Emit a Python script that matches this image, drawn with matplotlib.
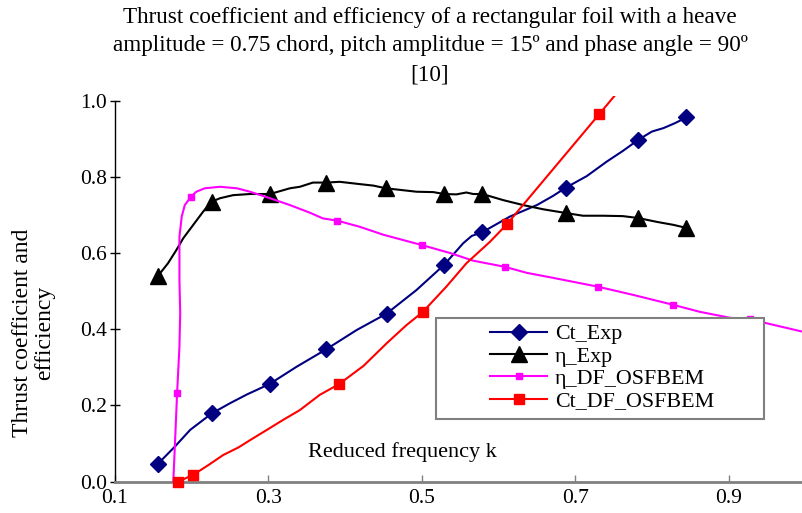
import matplotlib
matplotlib.use("Agg")
import matplotlib.pyplot as plt
from matplotlib.lines import Line2D
from matplotlib.patches import Rectangle

plt.rcParams['font.family'] = ['Liberation Serif', 'DejaVu Serif']
plt.rcParams['font.size'] = 15

# Ct_Exp : marker points and traced curve
ct_exp_k = [0.156, 0.226, 0.302, 0.375, 0.454, 0.529, 0.579, 0.688, 0.782, 0.845]
ct_exp_v = [0.047, 0.179, 0.257, 0.347, 0.441, 0.569, 0.655, 0.772, 0.897, 0.956]
ct_exp_line_k = [0.156, 0.178, 0.198, 0.226, 0.250, 0.272, 0.285, 0.302, 0.337, 0.375,
                 0.415, 0.454, 0.493, 0.529, 0.554, 0.565, 0.579, 0.615, 0.650, 0.671,
                 0.688, 0.715, 0.741, 0.762, 0.782, 0.800, 0.815, 0.830, 0.845]
ct_exp_line_v = [0.047, 0.092, 0.136, 0.179, 0.206, 0.229, 0.241, 0.257, 0.302, 0.347,
                 0.398, 0.441, 0.503, 0.569, 0.626, 0.645, 0.655, 0.696, 0.726, 0.750,
                 0.772, 0.802, 0.840, 0.868, 0.897, 0.919, 0.928, 0.941, 0.956]

# eta_Exp
eta_exp_k = [0.156, 0.226, 0.302, 0.375, 0.453, 0.529, 0.579, 0.688, 0.782, 0.845]
eta_exp_v = [0.540, 0.735, 0.755, 0.785, 0.770, 0.755, 0.755, 0.705, 0.692, 0.666]
eta_exp_line_k = [0.156, 0.169, 0.180, 0.189, 0.202, 0.215, 0.226, 0.237, 0.254, 0.276,
                  0.302, 0.328, 0.341, 0.358, 0.375, 0.393, 0.419, 0.437, 0.453, 0.471,
                  0.493, 0.515, 0.529, 0.545, 0.558, 0.567, 0.579, 0.606, 0.632, 0.658,
                  0.688, 0.710, 0.736, 0.762, 0.782, 0.806, 0.828, 0.845]
eta_exp_line_v = [0.540, 0.573, 0.608, 0.639, 0.674, 0.709, 0.735, 0.744, 0.752, 0.755,
                  0.755, 0.770, 0.774, 0.785, 0.785, 0.787, 0.781, 0.777, 0.770, 0.766,
                  0.761, 0.760, 0.755, 0.754, 0.759, 0.755, 0.755, 0.739, 0.726, 0.715,
                  0.705, 0.698, 0.698, 0.697, 0.692, 0.682, 0.674, 0.666]

# eta_DF_OSFBEM
eta_df_k = [0.181, 0.199, 0.390, 0.500, 0.608, 0.729, 0.828, 0.928]
eta_df_v = [0.234, 0.748, 0.685, 0.621, 0.564, 0.512, 0.464, 0.427]
eta_df_line_k = [0.176, 0.178, 0.181, 0.184, 0.185, 0.184, 0.184, 0.187, 0.191, 0.199,
                 0.206, 0.217, 0.237, 0.259, 0.276, 0.302, 0.328, 0.354, 0.371, 0.390,
                 0.419, 0.450, 0.500, 0.537, 0.567, 0.608, 0.637, 0.671, 0.729, 0.776,
                 0.828, 0.862, 0.902, 0.928, 0.949, 1.000]
eta_df_line_v = [0.000, 0.092, 0.234, 0.354, 0.442, 0.530, 0.643, 0.696, 0.726, 0.748,
                 0.761, 0.770, 0.774, 0.770, 0.761, 0.744, 0.726, 0.706, 0.691, 0.685,
                 0.669, 0.648, 0.621, 0.600, 0.580, 0.564, 0.548, 0.535, 0.512, 0.490,
                 0.464, 0.446, 0.430, 0.427, 0.416, 0.392]

# Ct_DF_OSFBEM
ct_df_k = [0.182, 0.202, 0.392, 0.501, 0.611, 0.731]
ct_df_v = [0.000, 0.018, 0.256, 0.445, 0.676, 0.964]
ct_df_line_k = [0.182, 0.202, 0.222, 0.241, 0.261, 0.276, 0.298, 0.319, 0.341, 0.367,
                0.392, 0.424, 0.454, 0.480, 0.501, 0.532, 0.558, 0.589, 0.611, 0.731, 0.775]
ct_df_line_v = [0.000, 0.018, 0.044, 0.070, 0.090, 0.109, 0.136, 0.162, 0.188, 0.228,
                0.256, 0.304, 0.363, 0.411, 0.445, 0.512, 0.573, 0.630, 0.676, 0.964, 1.07]

x_ticks = [0.1, 0.3, 0.5, 0.7, 0.9]
y_ticks = [0.0, 0.2, 0.4, 0.6, 0.8, 1.0]

W, H = 803, 513
fig = plt.figure(figsize=(W / 100, H / 100), dpi=100)
ax = fig.add_axes([115 / W, 1 - 481.7 / H, 690.4 / W, 386 / H])
ax.set_xlim(0.1, 1.0)
ax.set_ylim(0.0, 1.013)

series = [
    (ct_exp_line_k, ct_exp_line_v, ct_exp_k, ct_exp_v, '#000080', 'D', 8.5, 'Ct_Exp'),
    (eta_exp_line_k, eta_exp_line_v, eta_exp_k, eta_exp_v, 'black', '^', 11, 'η_Exp'),
    (eta_df_line_k, eta_df_line_v, eta_df_k, eta_df_v, '#FF00FF', 's', 4.5, 'η_DF_OSFBEM'),
    (ct_df_line_k, ct_df_line_v, ct_df_k, ct_df_v, '#FF0000', 's', 7, 'Ct_DF_OSFBEM'),
]

handles = []
for i, (lk, lv, mk, mv, col, mrk, ms, lab) in enumerate(series):
    ax.plot(lk, lv, color=col, lw=1.5, zorder=2 + i)
    ax.plot(mk, mv, ls='none', marker=mrk, ms=ms, color=col, mec=col,
            clip_on=False, zorder=2 + i)
    handles.append(Line2D([], [], color=col, lw=1.5, marker=mrk, ms=ms, mec=col, label=lab))

# axes styling
for s in ['top', 'right']:
    ax.spines[s].set_visible(False)
ax.spines['left'].set_bounds(0.0, 1.0)
ax.spines['left'].set_linewidth(1.0)
ax.spines['bottom'].set_color('#808080')
ax.spines['bottom'].set_linewidth(2.0)
ax.set_xticks(x_ticks)
ax.set_xticklabels([f"{t:.1f}" for t in x_ticks], fontsize=15.5)
ax.set_yticks(y_ticks)
ax.set_yticklabels([f"{t:.1f}" for t in y_ticks], fontsize=15.5)
ax.tick_params(axis='x', direction='in', length=5, width=1, color='#808080', pad=5)
ax.tick_params(axis='y', direction='inout', length=7, width=1, pad=2)

# legend box
box = Rectangle((436 / W, 1 - 419 / H), 328 / W, 101 / H, transform=fig.transFigure,
                facecolor='white', edgecolor='#808080', lw=1.5, zorder=10, clip_on=False)
ax.add_patch(box)
leg = ax.legend(handles=handles, loc='upper left', bbox_to_anchor=(490 / W, 1 - 324 / H),
                bbox_transform=fig.transFigure, frameon=False, borderaxespad=0,
                borderpad=0, handlelength=2.6, handletextpad=0.35, labelspacing=0.09,
                fontsize=15.8)
leg.set_zorder(11)

fig.text(430 / W, 1 - 46 / H,
         "Thrust coefficient and efficiency of a rectangular foil with a heave\n"
         "amplitude = 0.75 chord, pitch amplitdue = 15º and phase angle = 90º\n[10]",
         ha='center', va='center', multialignment='center', linespacing=1.47, fontsize=16.7)
fig.text(33.5 / W, 1 - 333 / H, "Thrust coefficient and\nefficiency", rotation=90,
         ha='center', va='center', multialignment='center', linespacing=1.05, fontsize=17)
fig.text(402 / W, 1 - 452 / H, "Reduced frequency k", ha='center', va='center', fontsize=16)

fig.savefig("out.png", dpi=100)
